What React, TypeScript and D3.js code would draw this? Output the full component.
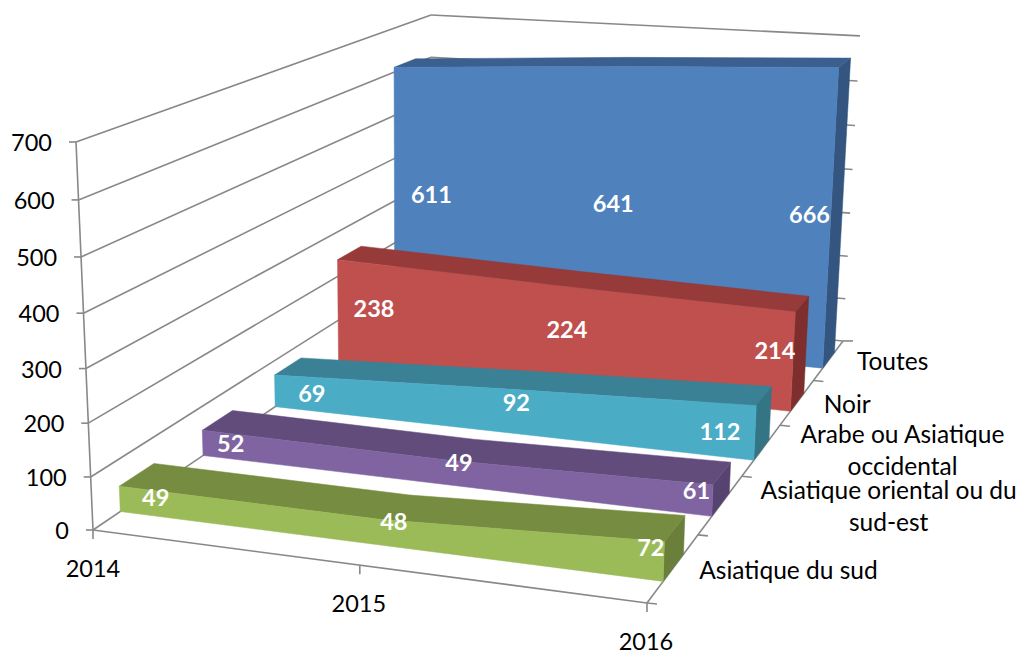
import React, { useEffect, useRef } from 'react';
import * as d3 from 'd3';

const years = ['2014', '2015', '2016'];
const yTicks = [0, 100, 200, 300, 400, 500, 600, 700];

// front to back, same order as the depth axis
const seriesNames = ['Asiatique du sud', 'Asiatique oriental ou du sud-est', 'Arabe ou Asiatique occidental', 'Noir', 'Toutes'];
const sudValues = [49, 48, 72];
const orientalValues = [52, 49, 61];
const arabeValues = [69, 92, 112];
const noirValues = [238, 224, 214];
const toutesValues = [611, 641, 666];
const seriesValues = [sudValues, orientalValues, arabeValues, noirValues, toutesValues];

const depthLabels = [['Asiatique du sud'], ['Asiatique oriental ou du', 'sud-est'], ['Arabe ou Asiatique', 'occidental'], ['Noir'], ['Toutes']];

const frontColors = ['#9BBB59', '#8064A2', '#4BACC6', '#C0504D', '#4F81BD'];
const topColors = ['#768C40', '#624C7C', '#3A8195', '#963B39', '#3B5F8E'];
const sideColors = ['#6A7F3A', '#564370', '#337585', '#7E2F2D', '#33557F'];

// label placement relative to the projected middle of each point
const labelNudge = [
  [[36, -1], [12, -11], [-13, -14]],
  [[28, 1], [10, -10], [-16, -10]],
  [[37, 3], [9, -8], [-35, -1]],
  [[36, -3], [8, -7], [-18, -11]],
  [[37, -4], [7, -5], [-21, -6]],
];
const depthNudge = [[115, 3], [168, 2], [141, 1], [50, 2], [64, 1]];

const FONT = 'Lato, "Open Sans", sans-serif';
const AXIS_COLOR = '#888888';

// perspective camera of the 3D box, unit cube -> screen
const project = (x: number, y: number, z: number): [number, number] => {
  const w = 1 - 0.0709 * x - 0.05 * y + 0.3766 * z;
  return [
    (93 + 508.1 * x - 20.8 * y + 499.6 * z) / w,
    (530 + 30.2 * x - 395.1 * y - 115 * z) / w - 4 * x * y * z, // small fix for the far right corner
  ];
};

const App = () => {
  const ref = useRef<SVGSVGElement | null>(null);

  useEffect(() => {
    const svg = d3.select(ref.current);
    svg.selectAll('*').remove();

    const xScale = d3.scalePoint<string>().domain(years).range([0, 1]);
    const yScale = d3.scaleLinear().domain([0, 700]).range([0, 1]);
    const zScale = d3.scaleBand<string>().domain(seriesNames).range([0, 1]).paddingInner(0.6).paddingOuter(0.3);
    const line = d3.line();

    const drawLine = (a: [number, number], b: [number, number], width = 1.6) => {
      svg.append('line')
        .attr('x1', a[0]).attr('y1', a[1])
        .attr('x2', b[0]).attr('y2', b[1])
        .attr('stroke', AXIS_COLOR)
        .attr('stroke-width', width);
    };
    const drawText = (p: [number, number], txt: string, anchor: string, size: number, fill = '#000', weight = 400) => {
      svg.append('text')
        .attr('x', p[0]).attr('y', p[1])
        .attr('dy', '0.35em')
        .attr('text-anchor', anchor)
        .attr('font-family', FONT)
        .attr('font-size', size)
        .attr('font-weight', weight)
        .attr('fill', fill)
        .text(txt);
    };

    // walls and gridlines
    yTicks.forEach(t => {
      const y = yScale(t);
      const p = project(0, y, 0);
      drawLine(p, project(0, y, 1));
      drawLine(project(0, y, 1), project(1, y, 1));
      drawLine(p, [p[0] - 7, p[1]]);
      drawText([p[0] - 24, p[1] + 1], String(t), 'end', 23.5);
    });
    drawLine(project(0, 0, 0), project(0, 1, 0));
    drawLine(project(0, 0, 0), project(1, 0, 0));
    drawLine(project(1, 0, 0), project(1, 0, 1));

    // year ticks
    const yearNudge = [0, -1, -1];
    years.forEach((year, i) => {
      const p = project(xScale(year)!, 0, 0);
      drawLine(p, [p[0], p[1] + 9]);
      drawText([p[0] + yearNudge[i], p[1] + 38.5], year, 'middle', 23.5);
    });

    // depth ticks
    d3.range(0, 6).forEach(i => {
      const p = project(1, 0, i / 5);
      drawLine(p, [p[0] + 10, p[1] + (i === 5 ? 0 : 1)]);
    });

    // slabs, back one first so the nearer ones cover it
    d3.range(seriesNames.length - 1, -1, -1).forEach(s => {
      const name = seriesNames[s];
      const values = seriesValues[s];
      const z0 = zScale(name)!;
      const z1 = z0 + zScale.bandwidth();
      const pts = years.map((year, i) => ({ x: xScale(year)!, y: yScale(values[i]) }));

      const face = (coords: [number, number][], fill: string) => {
        svg.append('path')
          .attr('d', line(coords) + 'Z')
          .attr('fill', fill)
          .attr('stroke', fill)
          .attr('stroke-width', 0.5);
      };

      const last = pts[pts.length - 1];
      face([
        project(1, 0, z0), project(1, 0, z1), project(1, last.y, z1), project(1, last.y, z0),
      ], sideColors[s]);
      face([
        ...pts.map(p => project(p.x, p.y, z0)),
        ...pts.slice().reverse().map(p => project(p.x, p.y, z1)),
      ], topColors[s]);
      face([
        project(0, 0, z0),
        ...pts.map(p => project(p.x, p.y, z0)),
        project(1, 0, z0),
      ], frontColors[s]);

      pts.forEach((p, i) => {
        const a = project(p.x, p.y / 2, z0);
        const [dx, dy] = labelNudge[s][i];
        drawText([a[0] + dx, a[1] + dy], String(values[i]), 'middle', 23.5, '#fff', 700);
      });

      // depth axis label
      const a = project(1, 0, z0 + zScale.bandwidth() / 2);
      const lines = depthLabels[s];
      lines.forEach((txt, i) => {
        const offset = (i - (lines.length - 1) / 2) * 32;
        drawText([a[0] + depthNudge[s][0], a[1] + depthNudge[s][1] + offset], txt, 'middle', 24.5);
      });
    });
  }, []);

  return (
    <svg
      ref={ref}
      width={1020}
      height={651}
      style={{ position: 'absolute', left: 0, top: 0, background: '#fff' }}
    />
  );
};

export default App;
